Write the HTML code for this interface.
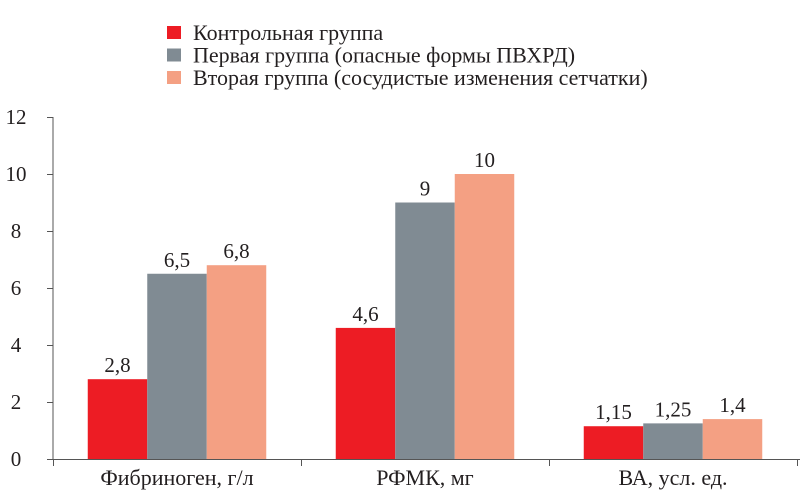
<!DOCTYPE html>
<html><head><meta charset="utf-8"><style>
body{margin:0;background:#fff}
svg text{font-family:"Liberation Serif","DejaVu Serif",serif;fill:#231f20}
</style></head><body>
<svg width="800" height="494" viewBox="0 0 800 494" xmlns="http://www.w3.org/2000/svg">
<g id="legend"></g>
<g id="axes"></g>
<g id="bars"></g>
</svg>
<script>
const categories = ["Фибриноген, г/л", "РФМК, мг", "ВА, усл. ед."];
const seriesNames = ["Контрольная группа", "Первая группа (опасные формы ПВХРД)", "Вторая группа (сосудистые изменения сетчатки)"];
const control = [2.8, 4.6, 1.15];
const first = [6.5, 9, 1.25];
const second = [6.8, 10, 1.4];
const valueLabels = [["2,8","4,6","1,15"],["6,5","9","1,25"],["6,8","10","1,4"]];
const yTicks = [0, 2, 4, 6, 8, 10, 12];

const NS = "http://www.w3.org/2000/svg";
const colors = ["#ed1c24", "#808b93", "#f4a083"];
const x0 = 53, band = 248, y0 = 459, yTop = 117, yMax = 12;
const barW = 59.5;
function y(v){ return y0 - (y0 - yTop) * v / yMax; }
function xc(i){ return x0 + band * (i + 0.5); }
function mk(tag, attrs, parent, txt){
  const e = document.createElementNS(NS, tag);
  for (const k in attrs) e.setAttribute(k, attrs[k]);
  if (txt !== undefined) e.textContent = txt;
  parent.appendChild(e); return e;
}
const axes = document.getElementById("axes");
const bars = document.getElementById("bars");
const legend = document.getElementById("legend");
const all = [control, first, second];

all.forEach((s, si) => {
  s.forEach((v, ci) => {
    const bx = xc(ci) - 1.5 * barW + si * barW;
    const r = mk("rect", {x: bx, y: y(v), width: barW, height: y0 - y(v), fill: colors[si]}, bars);
    
    
    const t = mk("text", {x: bx + barW / 2, y: y(v) - 7, "text-anchor": "middle", "font-size": "21"}, bars, valueLabels[si][ci]);
    
    
  });
});

const ax = mk("line", {x1: x0, y1: y0 + 1, x2: x0, y2: yTop, stroke: "#555", "stroke-width": 1}, axes);


const bl = mk("line", {x1: 47, y1: y0 + 0.5, x2: 800, y2: y0 + 0.5, stroke: "#555", "stroke-width": 1}, axes);


yTicks.forEach(v => {
  const l = mk("line", {x1: 47, y1: y(v) + 0.5, x2: x0, y2: y(v) + 0.5, stroke: "#555"}, axes);
  
  
  const t = mk("text", {x: 16, y: y(v) + 7, "text-anchor": "middle", "font-size": "21"}, axes, String(v));
  
  
});
for (let i = 0; i <= categories.length; i++) {
  const l = mk("line", {x1: x0 + band * i + 0.5, y1: y0, x2: x0 + band * i + 0.5, y2: y0 + 7, stroke: "#555"}, axes);
  
  
}
categories.forEach((c, i) => {
  const t = mk("text", {x: xc(i), y: 485, "text-anchor": "middle", "font-size": "22"}, axes, c);
  
  
});
seriesNames.forEach((n, i) => {
  const yy = 33 + i * 22.5;
  const r = mk("rect", {x: 167, y: yy - 7, width: 14, height: 13, fill: colors[i]}, legend);
  
  
  const t = mk("text", {x: 193, y: yy + 7, "font-size": "22"}, legend, n);
  
  
});
</script>
</body></html>
